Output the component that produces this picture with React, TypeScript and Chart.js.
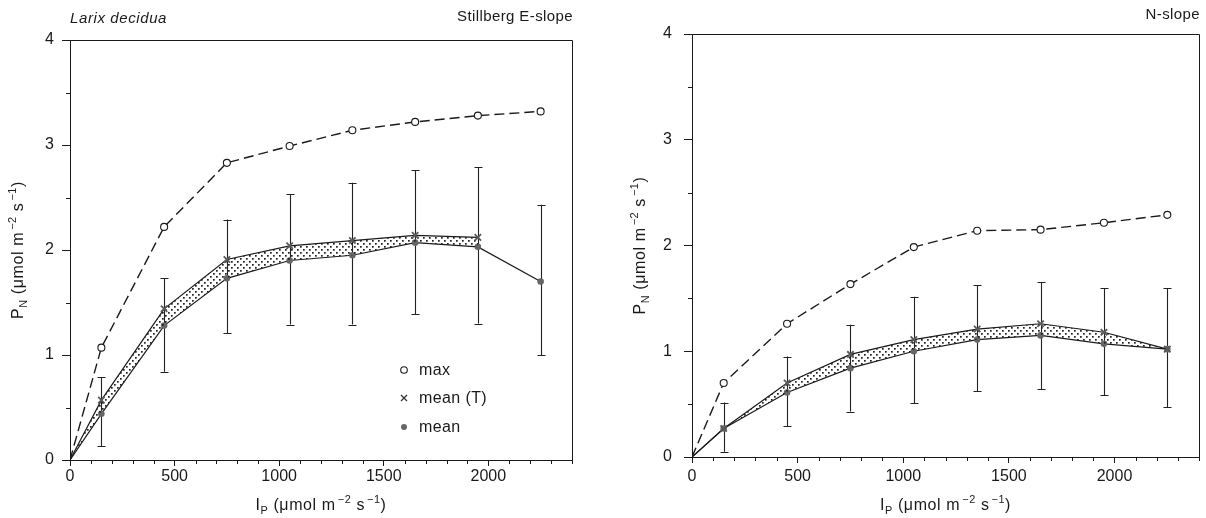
import React, { useEffect, useRef } from 'react';
import { Chart, registerables } from 'chart.js';

Chart.register(...registerables);

// ---------------- data ----------------
const xValues = [0, 150, 450, 750, 1050, 1350, 1650, 1950, 2250];
const xMajorTicks = [0, 500, 1000, 1500, 2000];
const yMajorTicks = [0, 1, 2, 3, 4];
const legendLabels = ['max', 'mean (T)', 'mean'];

// Stillberg E-slope (left)
const eMax = [0, 1.07, 2.22, 2.83, 2.99, 3.14, 3.22, 3.28, 3.32];
const eMeanT = [0, 0.57, 1.44, 1.91, 2.04, 2.09, 2.14, 2.12, null];
const eMean = [0, 0.44, 1.28, 1.73, 1.90, 1.95, 2.07, 2.03, 1.70];
const eErrLo = [null, 0.13, 0.84, 1.21, 1.29, 1.29, 1.39, 1.30, 1.00];
const eErrHi = [null, 0.79, 1.73, 2.29, 2.53, 2.64, 2.76, 2.79, 2.43];

// N-slope (right)
const nMax = [0, 0.70, 1.26, 1.635, 1.985, 2.14, 2.15, 2.215, 2.29];
const nMeanT = [0, 0.27, 0.70, 0.97, 1.11, 1.21, 1.26, 1.18, 1.02];
const nMean = [0, 0.27, 0.61, 0.84, 1.00, 1.11, 1.15, 1.07, 1.02];
const nErrLo = [null, 0.05, 0.29, 0.43, 0.51, 0.625, 0.64, 0.585, 0.47];
const nErrHi = [null, 0.515, 0.95, 1.25, 1.515, 1.625, 1.655, 1.595, 1.595];

const FONT = "'Liberation Sans', Arial, Helvetica, sans-serif";
const INK = '#1a1a1a';

type Seg = { t: string; sub?: boolean; sup?: boolean };
const axisYTitle: Seg[] = [
  { t: 'P' }, { t: 'N', sub: true }, { t: ' (\u03BCmol m' }, { t: '\u22122', sup: true },
  { t: ' s' }, { t: '\u22121', sup: true }, { t: ')' },
];
const axisXTitle: Seg[] = [
  { t: 'I' }, { t: 'P', sub: true }, { t: ' (\u03BCmol m' }, { t: '\u22122', sup: true },
  { t: ' s' }, { t: '\u22121', sup: true }, { t: ')' },
];

function drawRich(ctx: CanvasRenderingContext2D, segs: Seg[], x: number, y: number, size: number) {
  const small = size * 0.68;
  const fontOf = (s: Seg) => `${s.sub || s.sup ? small : size}px ${FONT}`;
  ctx.save();
  (ctx as any).letterSpacing = '0.6px';
  let total = 0;
  const widths = segs.map((s) => {
    ctx.font = fontOf(s);
    const w = ctx.measureText(s.t).width + (s.sup ? 2 : 0);
    total += w;
    return w;
  });
  let cx = x - total / 2;
  ctx.textAlign = 'left';
  ctx.textBaseline = 'alphabetic';
  ctx.fillStyle = INK;
  segs.forEach((s, i) => {
    ctx.font = fontOf(s);
    const dy = s.sub ? size * 0.25 : s.sup ? -size * 0.42 : 0;
    ctx.fillText(s.t, cx + (s.sup ? 2 : 0), y + dy);
    cx += widths[i];
  });
  ctx.restore();
}

function makeStipple(): CanvasPattern | string {
  const c = document.createElement('canvas');
  c.width = 6;
  c.height = 6;
  const g = c.getContext('2d');
  if (!g) return '#ccc';
  g.fillStyle = '#222';
  g.fillRect(0, 0, 1.7, 1.7);
  g.fillRect(3, 3, 1.7, 1.7);
  return g.createPattern(c, 'repeat') || '#ccc';
}

type Panel = {
  width: number;
  maxV: (number | null)[];
  meanT: (number | null)[];
  mean: (number | null)[];
  errLo: (number | null)[];
  errHi: (number | null)[];
  yAxisWidth: number;
  xAxisHeight: number;
  padRight: number;
  padTop: number;
  yTickPad: number;
  xTickPad: number;
  yTitleX: number;
  xTitleY: number;
  titleLeft?: string;
  titleRight: string;
  titleY: number;
  legend: boolean;
};

const pts = (arr: (number | null)[]) => xValues.map((x, i) => ({ x, y: arr[i] }));

function makeChart(canvas: HTMLCanvasElement, p: Panel) {
  const stipple = makeStipple();

  const decor = {
    id: 'decor',
    beforeDatasetsDraw(chart: any) {
      const ctx = chart.ctx as CanvasRenderingContext2D;
      const xs = chart.scales.x;
      const ys = chart.scales.y;
      ctx.save();
      ctx.strokeStyle = '#222';
      ctx.lineWidth = 1.1;
      xValues.forEach((xv, i) => {
        const lo = p.errLo[i];
        const hi = p.errHi[i];
        if (lo == null || hi == null) return;
        const px = Math.round(xs.getPixelForValue(xv)) + 0.5;
        const py1 = ys.getPixelForValue(lo);
        const py2 = ys.getPixelForValue(hi);
        ctx.beginPath();
        ctx.moveTo(px, py1);
        ctx.lineTo(px, py2);
        ctx.moveTo(px - 4, Math.round(py1) + 0.5);
        ctx.lineTo(px + 4, Math.round(py1) + 0.5);
        ctx.moveTo(px - 4, Math.round(py2) + 0.5);
        ctx.lineTo(px + 4, Math.round(py2) + 0.5);
        ctx.stroke();
      });
      ctx.restore();
    },
    afterDraw(chart: any) {
      const ctx = chart.ctx as CanvasRenderingContext2D;
      const a = chart.chartArea;
      const xs = chart.scales.x;
      const ys = chart.scales.y;
      ctx.save();
      ctx.strokeStyle = INK;
      ctx.lineWidth = 1;
      ctx.beginPath();
      ctx.moveTo(a.left, Math.round(a.top) + 0.5);
      ctx.lineTo(Math.round(a.right) + 0.5, Math.round(a.top) + 0.5);
      ctx.lineTo(Math.round(a.right) + 0.5, a.bottom);
      ctx.stroke();
      ctx.beginPath();
      for (let v = 100; v <= 2400; v += 100) {
        if (v % 500 === 0) continue;
        const px = Math.round(xs.getPixelForValue(v)) + 0.5;
        ctx.moveTo(px, a.bottom);
        ctx.lineTo(px, a.bottom + 4);
      }
      for (let v = 0.5; v < 4; v += 1) {
        const py = Math.round(ys.getPixelForValue(v)) + 0.5;
        ctx.moveTo(a.left, py);
        ctx.lineTo(a.left - 4, py);
      }
      ctx.stroke();
      ctx.fillStyle = INK;
      ctx.textBaseline = 'middle';
      if (p.titleLeft) {
        ctx.font = `italic 15px ${FONT}`;
        (ctx as any).letterSpacing = '0.6px';
        ctx.textAlign = 'left';
        ctx.fillText(p.titleLeft, a.left, p.titleY + 2);
      }
      ctx.font = `15px ${FONT}`;
      (ctx as any).letterSpacing = '0.4px';
      ctx.textAlign = 'right';
      ctx.fillText(p.titleRight, a.right + 1, p.titleY);
      (ctx as any).letterSpacing = '0px';
      ctx.restore();

      drawRich(ctx, axisXTitle, (a.left + a.right) / 2, p.xTitleY, 16);
      ctx.save();
      ctx.translate(p.yTitleX, (a.top + a.bottom) / 2);
      ctx.rotate(-Math.PI / 2);
      drawRich(ctx, axisYTitle, 0, 0, 16);
      ctx.restore();

      if (p.legend) {
        const lx = 404;
        const rows = [370, 398, 427];
        ctx.save();
        ctx.font = `16px ${FONT}`;
        (ctx as any).letterSpacing = '0.4px';
        ctx.textAlign = 'left';
        ctx.textBaseline = 'middle';
        ctx.beginPath();
        ctx.arc(lx, rows[0], 3.3, 0, Math.PI * 2);
        ctx.fillStyle = '#fff';
        ctx.fill();
        ctx.strokeStyle = INK;
        ctx.lineWidth = 1.1;
        ctx.stroke();
        ctx.beginPath();
        ctx.moveTo(lx - 3, rows[1] - 3);
        ctx.lineTo(lx + 3, rows[1] + 3);
        ctx.moveTo(lx + 3, rows[1] - 3);
        ctx.lineTo(lx - 3, rows[1] + 3);
        ctx.strokeStyle = '#333';
        ctx.lineWidth = 1.3;
        ctx.stroke();
        ctx.beginPath();
        ctx.arc(lx, rows[2], 3, 0, Math.PI * 2);
        ctx.fillStyle = '#666';
        ctx.fill();
        ctx.fillStyle = INK;
        legendLabels.forEach((t, i) => ctx.fillText(t, lx + 15, rows[i] + 1));
        ctx.restore();
      }
    },
  };

  return new Chart(canvas, {
    type: 'line',
    data: {
      datasets: [
        {
          label: 'max',
          data: pts(p.maxV),
          borderColor: INK,
          borderWidth: 1.4,
          borderDash: [10, 5],
          pointStyle: 'circle',
          pointRadius: (c: any) => (c.dataIndex === 0 ? 0 : 3.5),
          pointBackgroundColor: '#fff',
          pointBorderColor: INK,
          pointBorderWidth: 1.1,
          fill: false,
        },
        {
          label: 'mean (T)',
          data: pts(p.meanT),
          borderColor: INK,
          borderWidth: 1.2,
          pointStyle: 'crossRot',
          pointRadius: (c: any) => (c.dataIndex === 0 ? 0 : 4.5),
          pointBorderColor: '#5a5a5a',
          pointBorderWidth: 1.8,
          backgroundColor: stipple as any,
          fill: '+1',
        },
        {
          label: 'mean',
          data: pts(p.mean),
          borderColor: INK,
          borderWidth: 1.2,
          pointStyle: 'circle',
          pointRadius: (c: any) => (c.dataIndex === 0 ? 0 : 3.3),
          pointBackgroundColor: '#666',
          pointBorderColor: '#666',
          pointBorderWidth: 0,
          fill: false,
        },
      ],
    },
    options: {
      responsive: false,
      animation: false,
      events: [],
      layout: { padding: { left: 0, right: p.padRight, top: p.padTop, bottom: 0 } },
      plugins: { legend: { display: false }, tooltip: { enabled: false }, title: { display: false } },
      elements: { line: { tension: 0 } },
      scales: {
        x: {
          type: 'linear',
          min: 0,
          max: 2400,
          afterBuildTicks: (s: any) => {
            s.ticks = xMajorTicks.map((v) => ({ value: v }));
          },
          afterFit: (s: any) => {
            s.height = p.xAxisHeight;
          },
          ticks: {
            font: { family: FONT, size: 16 },
            color: INK,
            padding: p.xTickPad,
            maxRotation: 0,
            callback: (v: any) => String(v),
          },
          grid: { display: true, drawOnChartArea: false, drawTicks: true, tickLength: 6, color: INK, tickWidth: 1 },
          border: { display: true, color: INK, width: 1 },
        },
        y: {
          type: 'linear',
          min: 0,
          max: 4,
          afterBuildTicks: (s: any) => {
            s.ticks = yMajorTicks.map((v) => ({ value: v }));
          },
          afterFit: (s: any) => {
            s.width = p.yAxisWidth;
          },
          ticks: {
            font: { family: FONT, size: 16 },
            color: INK,
            padding: p.yTickPad,
            callback: (v: any) => String(v),
          },
          grid: { display: true, drawOnChartArea: false, drawTicks: true, tickLength: 8, color: INK, tickWidth: 1 },
          border: { display: true, color: INK, width: 1 },
        },
      },
    },
    plugins: [decor],
  } as any);
}

const leftPanel: Panel = {
  width: 600,
  maxV: eMax,
  meanT: eMeanT,
  mean: eMean,
  errLo: eErrLo,
  errHi: eErrHi,
  yAxisWidth: 70,
  xAxisHeight: 58,
  padRight: 28,
  padTop: 40,
  yTickPad: 8,
  xTickPad: 1,
  yTitleX: 23,
  xTitleY: 510,
  titleLeft: 'Larix decidua',
  titleRight: 'Stillberg E-slope',
  titleY: 17,
  legend: true,
};

const rightPanel: Panel = {
  width: 606,
  maxV: nMax,
  meanT: nMeanT,
  mean: nMean,
  errLo: nErrLo,
  errHi: nErrHi,
  yAxisWidth: 92,
  xAxisHeight: 61,
  padRight: 7,
  padTop: 34,
  yTickPad: 12,
  xTickPad: 4,
  yTitleX: 45,
  xTitleY: 510,
  titleRight: 'N-slope',
  titleY: 15,
  legend: false,
};

export default function App() {
  const leftRef = useRef<HTMLCanvasElement | null>(null);
  const rightRef = useRef<HTMLCanvasElement | null>(null);

  useEffect(() => {
    const charts: Chart[] = [];
    if (leftRef.current) charts.push(makeChart(leftRef.current, leftPanel));
    if (rightRef.current) charts.push(makeChart(rightRef.current, rightPanel));
    return () => charts.forEach((c) => c.destroy());
  }, []);

  return (
    <div style={{ position: 'absolute', left: 0, top: 0, width: 1206, height: 518, background: '#fff', overflow: 'hidden' }}>
      <canvas ref={leftRef} width={600} height={518} style={{ position: 'absolute', left: 0, top: 0, width: 600, height: 518 }} />
      <canvas ref={rightRef} width={606} height={518} style={{ position: 'absolute', left: 600, top: 0, width: 606, height: 518 }} />
    </div>
  );
}
